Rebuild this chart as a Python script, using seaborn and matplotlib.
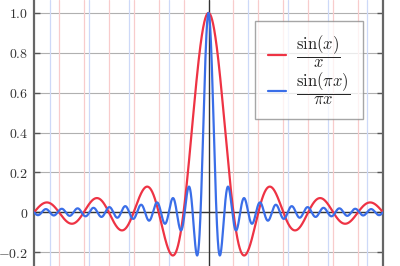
import numpy as np
import pandas as pd
import matplotlib
matplotlib.use("Agg")
import matplotlib.pyplot as plt
import seaborn as sns

# ---- data description ----
x_min_in_pi = -7          # x range in multiples of pi
x_max_in_pi = 7
red_label = r"$\dfrac{\sin(x)}{x}$"
blue_label = r"$\dfrac{\sin(\pi x)}{\pi x}$"
ytick_values = [-0.2, 0.0, 0.2, 0.4, 0.6, 0.8, 1.0]
ytick_labels = [r"$-0.2$", r"$0$", r"$0.2$", r"$0.4$", r"$0.6$", r"$0.8$", r"$1.0$"]
red_marks_in_pi = [-6, -5, -4, -3, -2, -1, 1, 2, 3, 4, 5, 6]
blue_marks = [-20, -15, -10, -5, 5, 10, 15, 20]

sns.set_theme(style="white")
plt.rcParams["mathtext.fontset"] = "cm"
plt.rcParams["font.family"] = ["DejaVu Serif"]

x = np.linspace(x_min_in_pi * np.pi, x_max_in_pi * np.pi, 4001)
df = pd.DataFrame({
    "x": np.concatenate([x, x]),
    "y": np.concatenate([np.sinc(x / np.pi), np.sinc(x)]),
    "f": [red_label] * len(x) + [blue_label] * len(x),
})

fig = plt.figure(figsize=(4.0, 2.66), dpi=100)
ax = fig.add_axes([0.085, 0.0, 0.8725, 1.0])

for v in ytick_values:
    ax.axhline(v, color="#b0b0b0", lw=0.8, zorder=0)
for k in red_marks_in_pi:
    ax.axvline(k * np.pi, color="#f8cccc", lw=0.9, zorder=0)
for b in blue_marks:
    ax.axvline(b, color="#cdd9f8", lw=0.9, zorder=0)
ax.axhline(0, color="#333333", lw=1.0, zorder=1)
ax.axvline(0, color="#333333", lw=1.0, zorder=1)

sns.lineplot(data=df, x="x", y="y", hue="f", ax=ax,
             palette=["#ee3344", "#3a6ee8"], lw=1.6, zorder=3, sort=False,
             estimator=None)

ax.set_xlim(x_min_in_pi * np.pi, x_max_in_pi * np.pi)
ax.set_ylim(-0.27, 1.065)
ax.set_yticks(ytick_values)
ax.set_yticklabels(ytick_labels, fontsize=10, color="#333333")
ax.set_xticks([])
ax.set_xlabel("")
ax.set_ylabel("")
ax.tick_params(axis="y", direction="in", length=4, width=1.0, color="#555555",
               left=True, right=True, pad=4)
for s in ["top", "bottom"]:
    ax.spines[s].set_visible(False)
for s in ["left", "right"]:
    ax.spines[s].set_color("#666666")
    ax.spines[s].set_linewidth(1.6)

leg = ax.legend(loc="upper right", bbox_to_anchor=(0.943, 0.921), fontsize=12,
                borderaxespad=0.0,
                handlelength=1.1, handletextpad=0.6, labelspacing=0.05,
                borderpad=0.75, fancybox=False, framealpha=0.75,
                edgecolor="#888888", title=None)
leg.get_frame().set_linewidth(1.0)

fig.savefig("out.png", dpi=100)
